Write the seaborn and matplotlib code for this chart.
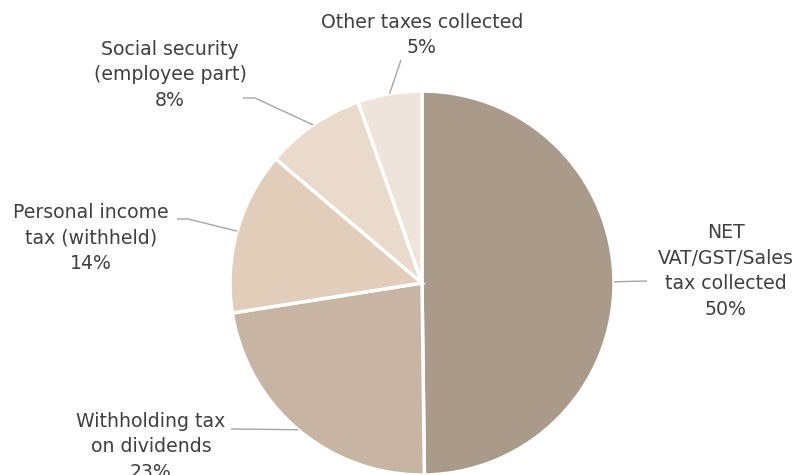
import numpy as np
import matplotlib
matplotlib.use('Agg')
import matplotlib.pyplot as plt
import seaborn as sns

# slices, clockwise from 12 o'clock
categories = ['NET\nVAT/GST/Sales\ntax collected',
              'Withholding tax\non dividends',
              'Personal income\ntax (withheld)',
              'Social security\n(employee part)',
              'Other taxes collected']
shares = [49.8, 22.7, 13.7, 8.4, 5.4]
colors = ['#A99A89', '#C8B4A3', '#E1CDB9', '#E9DACB', '#EFE4DB']

# layout in pixels (y measured from top)
W, H = 797, 475
cx, cy, r = 422, 283, 192
label_pos = [(726, 271), (151, 447), (91, 238), (170, 75), (422, 35)]
leader_ends = [[(647, 281)],
               [(231, 429)],
               [(188, 219), (177, 219)],
               [(255, 98), (243, 98)],
               [(401, 60)]]

sns.set_theme(style='white')
plt.rcParams['font.family'] = ['DejaVu Sans']

fig = plt.figure(figsize=(W / 100, H / 100), dpi=100)
ax = fig.add_axes([0, 0, 1, 1])
wedges, _ = ax.pie(shares, colors=colors, startangle=90, counterclock=False,
                   center=(cx, H - cy), radius=r,
                   wedgeprops=dict(edgecolor='white', linewidth=2.5))
ax.set_xlim(0, W)
ax.set_ylim(0, H)
ax.set_aspect('equal')
ax.axis('off')

total = sum(shares)
for w, cat, v, (tx, ty), ends in zip(wedges, categories, shares, label_pos, leader_ends):
    mid = np.deg2rad((w.theta1 + w.theta2) / 2)
    px = cx + r * np.cos(mid)
    py = H - cy + r * np.sin(mid)
    xs = [px] + [e[0] for e in ends]
    ys = [py] + [H - e[1] for e in ends]
    ax.plot(xs, ys, color='#A6A6A6', lw=1.0, solid_capstyle='butt')
    ax.text(tx, H - ty, f'{cat}\n{v / total * 100:.0f}%', ha='center', va='center',
            multialignment='center', fontsize=13.6, color='#404040', linespacing=1.43)

plt.savefig('out.png', dpi=100, facecolor='white')
plt.close()
